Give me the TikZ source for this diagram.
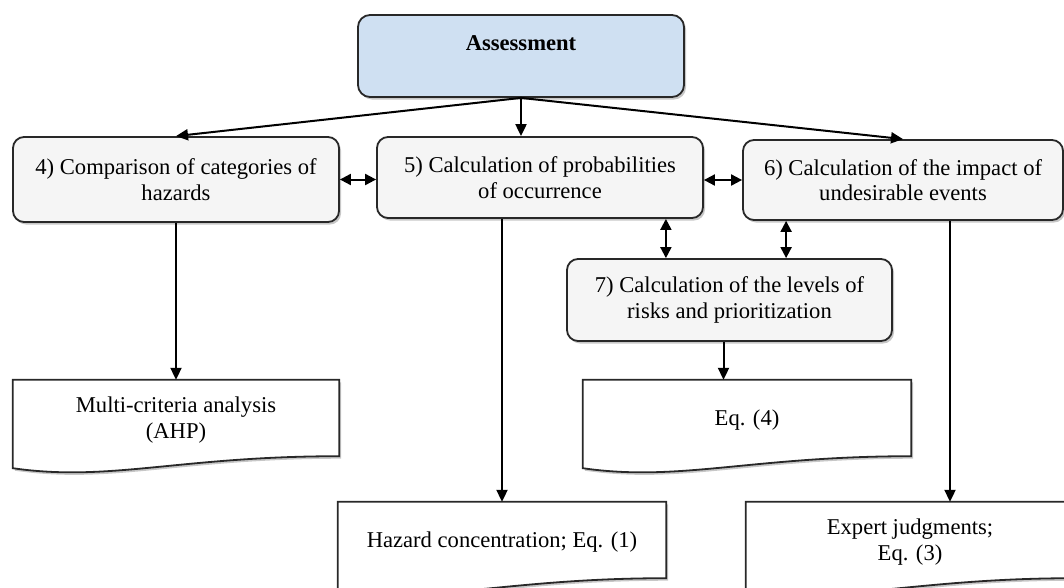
\documentclass[tikz,border=0pt]{standalone}
\usepackage{fontspec}
\setmainfont{Liberation Serif}
\usetikzlibrary{arrows.meta,shadows}
\pgfdeclarelayer{background}
\pgfsetlayers{background,main}
\definecolor{headfill}{RGB}{207,224,242}
\definecolor{stepfill}{RGB}{245,245,245}
\definecolor{edgegray}{RGB}{40,40,40}
\tikzset{
  boxshadow/.style={drop shadow={shadow xshift=2pt,shadow yshift=-2.5pt,opacity=0.22,fill=black}},
  headbox/.style={draw=edgegray,line width=1.8pt,rounded corners=12pt,fill=headfill,
    minimum width=326pt,minimum height=82pt,inner sep=0pt,boxshadow},
  stepbox/.style={draw=edgegray,line width=1.8pt,rounded corners=11pt,fill=stepfill,
    align=center,inner sep=0pt,boxshadow},
  docnode/.style={align=center,inner sep=0pt,minimum width=328pt,minimum height=80pt},
  docline/.style={draw=edgegray,line width=1.8pt,fill=white,boxshadow},
  link/.style={line width=2pt,-{Triangle[length=12pt,width=11pt]}},
  twoway/.style={line width=2pt,{Triangle[length=11pt,width=11pt]}-{Triangle[length=11pt,width=11pt]}},
  every node/.style={font=\fontsize{22.6}{25.5}\selectfont}
}
% document outline with a wavy lower edge around a docnode
\newcommand\docoutline[1]{%
  \begin{pgfonlayer}{background}
    \draw[docline] (#1.north west) -- (#1.north east) -- ([yshift=4pt]#1.south east)
      .. controls ([xshift=-160pt,yshift=4pt]#1.south east) and ([xshift=97pt,yshift=-22pt]#1.south west)
      .. ([yshift=-8pt]#1.south west) -- cycle;
  \end{pgfonlayer}}
\begin{document}
\begin{tikzpicture}[x=1pt,y=-1pt]
\path[use as bounding box,clip] (0,0) rectangle (1064,587);

% top box
\node[headbox] (ass) at (521,56) {};
\node[font=\fontsize{22.6}{25.5}\selectfont\bfseries] (asstext) at (521,43) {Assessment};

% process steps
\node[stepbox,minimum width=326pt,minimum height=85pt] (b4) at (176,179.5)
  {4) Comparison of categories of\\hazards};
\node[stepbox,minimum width=326pt,minimum height=81pt] (b5) at (540,177.5)
  {5) Calculation of probabilities\\of occurrence};
\node[stepbox,minimum width=320pt,minimum height=80pt] (b6) at (903,180)
  {6) Calculation of the impact of\\undesirable events};
\node[stepbox,minimum width=325pt,minimum height=82pt] (b7) at (729.5,300)
  {7) Calculation of the levels of\\risks and prioritization};

% methods (document shapes)
\node[docnode,minimum width=326pt] (multi) at (176,420) {Multi-criteria analysis\\(AHP)};
\docoutline{multi}
\node[docnode] (eq4) at (747,420) {Eq. (4)};
\docoutline{eq4}
\node[docnode] (haz) at (502,542) {Hazard concentration; Eq. (1)};
\docoutline{haz}
\node[docnode] (exp) at (910,542) {Expert judgments;\\Eq. (3)};
\docoutline{exp}

% connectors
\draw[link] (ass.south) -- (b4.north);
\draw[link] (ass.south) -- (ass.south |- b5.north);
\draw[link] (ass.south) -- (b6.north);

\draw[twoway] (b4.east) -- (b4.east -| b5.west);
\draw[twoway] (b5.east |- b6.west) -- (b6.west);

\coordinate (p57) at ([xshift=-38pt]b5.south east);
\coordinate (p67) at ([xshift=44pt]b6.south west);
\draw[twoway] (p57) -- (p57 |- b7.north);
\draw[twoway] (p67) -- (p67 |- b7.north);

\coordinate (p7e) at ([xshift=-6pt]b7.south);
\draw[link] (p7e) -- (p7e |- eq4.north);
\draw[link] (b4.south) -- (multi.north);
\coordinate (p5h) at ([xshift=-38pt]b5.south);
\draw[link] (p5h) -- (p5h |- haz.north);
\coordinate (p6x) at ([xshift=47pt]b6.south);
\draw[link] (p6x) -- (p6x |- exp.north);
\end{tikzpicture}
\end{document}
